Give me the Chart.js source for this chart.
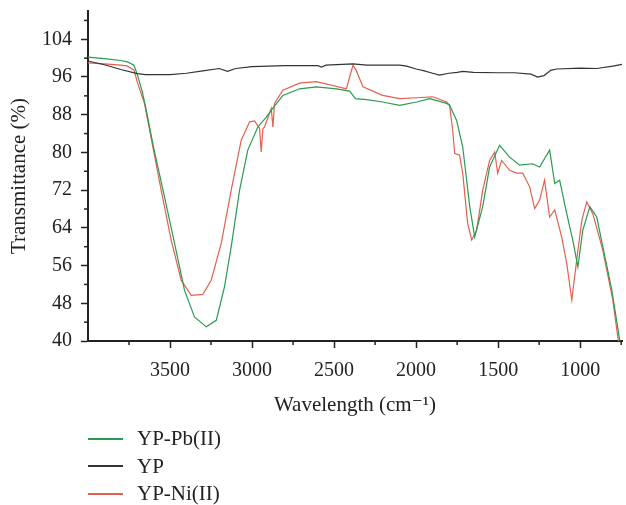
<!DOCTYPE html>
<html>
<head>
<meta charset="utf-8">
<script src="https://cdn.jsdelivr.net/npm/chart.js@4.4.0/dist/chart.umd.min.js"></script>
<style>
  body { margin: 0; background: #fff; }
  #wrap { position: relative; width: 626px; height: 505px; }
  #legend { position: absolute; left: 88px; top: 425px; font: 21px "Liberation Serif", "DejaVu Serif", serif; color: #222; }
  .item { display: flex; align-items: center; height: 27.5px; }
  .swatch { width: 35px; height: 2px; margin-right: 14px; }
</style>
</head>
<body>
<div id="wrap">
  <canvas id="c" width="626" height="505"></canvas>
  <div id="legend"></div>
</div>
<script>
// Tick positions
const xTicks = [3750, 3500, 3250, 3000, 2750, 2500, 2250, 2000, 1750, 1500, 1250, 1000, 750];
const yTicks = [40, 44, 48, 52, 56, 60, 64, 68, 72, 76, 80, 84, 88, 92, 96, 100, 104, 108];

// YP (raw)
const ypWave = [4000, 3900, 3800, 3700, 3650, 3500, 3400, 3300, 3200, 3150, 3100, 3000, 2800, 2600, 2576, 2550, 2385, 2300, 2100, 2058, 2000, 1950, 1900, 1857, 1800, 1750, 1716, 1650, 1500, 1400, 1300, 1259, 1220, 1180, 1143, 1000, 900, 800, 745];
const ypTrans = [99.4, 98.6, 97.6, 96.7, 96.5, 96.5, 96.8, 97.3, 97.8, 97.2, 97.8, 98.2, 98.4, 98.4, 98.1, 98.5, 98.8, 98.5, 98.5, 98.3, 97.7, 97.3, 96.8, 96.4, 96.8, 97.0, 97.2, 97.0, 96.9, 96.9, 96.6, 96.0, 96.3, 97.4, 97.7, 97.9, 97.8, 98.3, 98.7];

// YP-Pb(II)
const pbWave = [4000, 3900, 3800, 3760, 3720, 3698, 3670, 3645, 3600, 3534, 3473, 3412, 3351, 3279, 3218, 3168, 3127, 3076, 3026, 2965, 2913, 2873, 2812, 2710, 2608, 2485, 2405, 2370, 2302, 2204, 2100, 1997, 1917, 1814, 1796, 1753, 1716, 1673, 1643, 1594, 1552, 1491, 1430, 1369, 1290, 1247, 1186, 1155, 1125, 1082, 1045, 1014, 984, 941, 899, 862, 807, 759, 745];
const pbTrans = [100.2, 99.9, 99.5, 99.2, 98.5, 96.4, 93.0, 89.0, 81.0, 70.6, 60.8, 50.8, 45.1, 43.0, 44.4, 51.5, 60.0, 72.0, 80.5, 85.4, 87.5, 89.4, 92.1, 93.5, 93.9, 93.5, 93.0, 91.4, 91.2, 90.7, 90.0, 90.7, 91.4, 90.4, 90.0, 86.8, 81.2, 68.5, 62.1, 68.5, 76.9, 81.5, 79.0, 77.3, 77.6, 76.9, 80.5, 73.4, 74.1, 67.0, 61.4, 55.7, 63.5, 68.5, 66.3, 60.0, 50.8, 40.2, 37.5];

// YP-Ni(II)
const niWave = [4000, 3900, 3800, 3760, 3720, 3700, 3656, 3554, 3493, 3432, 3371, 3300, 3249, 3188, 3127, 3066, 3015, 2985, 2954, 2944, 2934, 2924, 2883, 2873, 2863, 2812, 2710, 2608, 2425, 2405, 2385, 2365, 2324, 2204, 2100, 1997, 1899, 1814, 1796, 1777, 1765, 1735, 1716, 1686, 1661, 1631, 1594, 1552, 1521, 1503, 1479, 1430, 1387, 1350, 1308, 1277, 1247, 1217, 1186, 1155, 1113, 1082, 1051, 1021, 990, 960, 923, 862, 801, 771, 755];
const niTrans = [99.0, 98.8, 98.5, 98.3, 97.5, 95.0, 90.4, 72.0, 61.4, 52.9, 49.7, 49.9, 52.9, 60.7, 72.0, 82.6, 86.5, 86.7, 85.1, 80.1, 85.0, 85.4, 89.3, 85.4, 90.4, 93.2, 94.7, 95.0, 93.5, 96.0, 98.5, 97.4, 93.9, 92.1, 91.4, 91.6, 91.8, 90.7, 90.0, 84.7, 79.8, 79.4, 75.6, 65.0, 61.4, 63.5, 72.0, 78.3, 80.1, 75.6, 78.3, 76.2, 75.6, 75.6, 72.7, 68.1, 69.9, 74.1, 66.3, 67.8, 62.1, 56.5, 48.7, 57.2, 65.6, 69.5, 67.0, 59.3, 48.7, 40.9, 37.5];

const series = [
  { label: 'YP-Pb(II)', wave: pbWave, trans: pbTrans, color: '#2a9a52' },
  { label: 'YP', wave: ypWave, trans: ypTrans, color: '#333333' },
  { label: 'YP-Ni(II)', wave: niWave, trans: niTrans, color: '#e2604e' }
];

const axisColor = '#222';
const fontFamily = '"Liberation Serif", "DejaVu Serif", serif';
const tickFont = { family: fontFamily, size: 20 };
const titleFont = { family: fontFamily, size: 21 };

// minor tick marks, shorter than the major ones
const minorTicks = {
  id: 'minorTicks',
  afterDraw(chart) {
    const { ctx, chartArea, scales } = chart;
    ctx.save();
    ctx.strokeStyle = axisColor;
    ctx.lineWidth = 1.5;
    xTicks.filter(v => v % 500 !== 0).forEach(v => {
      const px = scales.x.getPixelForValue(v);
      ctx.beginPath();
      ctx.moveTo(px, chartArea.bottom);
      ctx.lineTo(px, chartArea.bottom + 4);
      ctx.stroke();
    });
    yTicks.filter(v => v % 8 !== 0).forEach(v => {
      const py = scales.y.getPixelForValue(v);
      ctx.beginPath();
      ctx.moveTo(chartArea.left, py);
      ctx.lineTo(chartArea.left - 4, py);
      ctx.stroke();
    });
    ctx.restore();
  }
};

new Chart(document.getElementById('c'), {
  type: 'line',
  data: {
    datasets: [series[1], series[0], series[2]].map(s => ({
      label: s.label,
      data: s.wave.map((w, i) => ({ x: w, y: s.trans[i] })),
      borderColor: s.color,
      borderWidth: 1.2,
      pointRadius: 0,
      tension: 0,
      fill: false
    }))
  },
  options: {
    responsive: false,
    animation: false,
    layout: { padding: { top: 11, right: 4, left: 0, bottom: 84 } },
    plugins: { legend: { display: false }, tooltip: { enabled: false } },
    scales: {
      x: {
        type: 'linear',
        reverse: true,
        min: 745,
        max: 4000,
        afterBuildTicks: s => { s.ticks = xTicks.map(v => ({ value: v })); },
        afterFit: s => { s.height = 80; s.paddingLeft = 0; s.paddingRight = 0; },
        ticks: {
          autoSkip: false, maxRotation: 0, padding: 11, color: axisColor, font: tickFont,
          callback: v => (v % 500 === 0 ? String(v) : '')
        },
        grid: {
          drawOnChartArea: false, drawTicks: true, tickLength: 7, tickWidth: 1.5,
          tickColor: c => (c.tick && c.tick.value % 500 === 0 ? axisColor : 'rgba(0,0,0,0)')
        },
        border: { display: true, color: axisColor, width: 2 },
        title: {
          display: true, text: 'Wavelength (cm\u207B\u00B9)', color: axisColor,
          font: titleFont, padding: { top: 0, bottom: 2.5 }
        }
      },
      y: {
        min: 40,
        max: 110,
        afterBuildTicks: s => { s.ticks = yTicks.map(v => ({ value: v })); },
        afterFit: s => { s.width = 88; s.paddingTop = 0; s.paddingBottom = 0; },
        ticks: {
          autoSkip: false, padding: 9, color: axisColor, font: tickFont,
          callback: v => (v % 8 === 0 ? String(v) : '')
        },
        grid: {
          drawOnChartArea: false, drawTicks: true, tickLength: 7, tickWidth: 1.5,
          tickColor: c => (c.tick && c.tick.value % 8 === 0 ? axisColor : 'rgba(0,0,0,0)')
        },
        border: { display: true, color: axisColor, width: 2 },
        title: {
          display: true, text: 'Transmittance (%)', color: axisColor,
          font: titleFont, padding: { top: 7, bottom: 0 }
        }
      }
    }
  },
  plugins: [minorTicks]
});

document.getElementById('legend').innerHTML = series.map(s =>
  `<div class="item"><span class="swatch" style="background:${s.color}"></span><span>${s.label}</span></div>`
).join('');
</script>
</body>
</html>
